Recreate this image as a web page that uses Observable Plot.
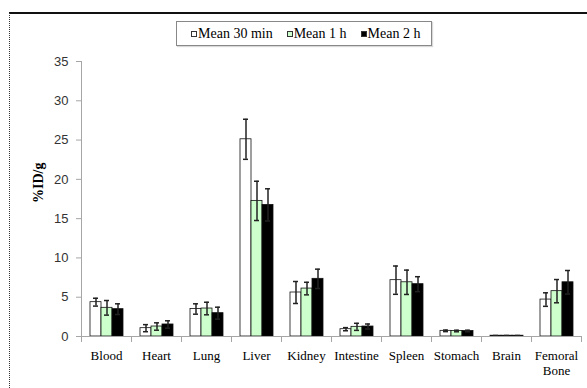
<!DOCTYPE html>
<html>
<head>
<meta charset="utf-8">
<script src="https://cdn.jsdelivr.net/npm/d3@7"></script>
<script src="https://cdn.jsdelivr.net/npm/@observablehq/plot@0.6"></script>
<style>
  html, body { margin: 0; padding: 0; background: #fff; }
  #wrap { position: relative; width: 587px; height: 388px; overflow: hidden; background: #fff; }
  #wrap svg { position: absolute; left: 0; top: 0; }
  #border {
    position: absolute; left: 9px; top: 12px; width: 640px; height: 420px;
    border-top: 2px solid #111; border-left: 1px dotted #333; box-sizing: border-box;
  }
  #legend {
    position: absolute; left: 176px; top: 21px; width: 256px; height: 25px;
    box-sizing: border-box; border: 1px solid #888; background: #fff;
    box-shadow: 1px 1px 1px rgba(0,0,0,0.15);
    display: flex; align-items: center; padding-left: 14px;
    font-family: "Liberation Serif", "Times New Roman", serif; font-size: 14px; color: #000;
  }
  #legend .item { display: flex; align-items: center; margin-right: 14px; white-space: nowrap; }
  #legend .sw { width: 6px; height: 6px; border: 1px solid #333; box-sizing: border-box; margin-right: 1px; }
  .organ-chart g[aria-label="fx-axis tick label"] text,
  .organ-chart g[aria-label="fx-axis tick label"] {
    font-family: "Liberation Serif", "Times New Roman", serif !important;
    font-size: 13px;
  }
  .organ-chart g[aria-label="y-axis tick label"] {
    font-family: "Liberation Sans", Arial, sans-serif !important;
    font-size: 13px;
  }
  .organ-chart .ytitle, .organ-chart .ytitle text {
    font-family: "Liberation Serif", "Times New Roman", serif !important;
  }
</style>
</head>
<body>
<div id="wrap">
  <div id="border"></div>
</div>
<script>
// Tissue distribution (%ID/g), mean ± SD at three time points
const organs = ["Blood", "Heart", "Lung", "Liver", "Kidney", "Intestine", "Spleen", "Stomach", "Brain", "Femoral Bone"];
const series = ["Mean 30 min", "Mean 1 h", "Mean 2 h"];
const seriesColors = ["#ffffff", "#ccffcc", "#000000"];

const mean30 = [4.37, 1.06, 3.5, 25.1, 5.6, 0.93, 7.17, 0.72, 0.1, 4.7];
const sd30   = [0.5, 0.45, 0.66, 2.55, 1.4, 0.2, 1.8, 0.1, 0.03, 0.86];
const mean1h = [3.65, 1.27, 3.56, 17.26, 6.1, 1.23, 6.9, 0.7, 0.1, 5.77];
const sd1h   = [0.93, 0.47, 0.8, 2.5, 0.8, 0.45, 1.55, 0.1, 0.03, 1.48];
const mean2h = [3.48, 1.53, 2.97, 16.75, 7.34, 1.27, 6.66, 0.7, 0.1, 6.9];
const sd2h   = [0.68, 0.47, 0.76, 2.05, 1.23, 0.32, 0.95, 0.1, 0.03, 1.5];

const yTicks = [0, 5, 10, 15, 20, 25, 30, 35];
const yLabel = "%ID/g";

const means = [mean30, mean1h, mean2h];
const sds = [sd30, sd1h, sd2h];
const rows = organs.flatMap((organ, i) =>
  series.map((s, j) => ({organ, series: s, mean: means[j][i], sd: sds[j][i]}))
);

const axisGray = "#a6a6a6";

const chart = Plot.plot({
  width: 587,
  height: 388,
  marginLeft: 79,
  marginRight: 5,
  marginTop: 61,
  marginBottom: 52,
  className: "organ-chart",
  fx: {domain: organs, padding: 0},
  x: {domain: series, paddingInner: 0, paddingOuter: 0.67, axis: null},
  y: {domain: [0, 35]},
  color: {domain: series, range: seriesColors},
  marks: [
    Plot.barY(rows, {fx: "organ", x: "series", y: "mean", fill: "series", stroke: "#111", strokeWidth: 0.8}),
    Plot.ruleX(rows, {fx: "organ", x: "series", y1: d => d.mean - d.sd, y2: d => d.mean + d.sd, stroke: "#222", strokeWidth: 1.5}),
    Plot.tickY(rows, {fx: "organ", x: "series", y: d => d.mean + d.sd, insetLeft: 3, insetRight: 3, stroke: "#222", strokeWidth: 1.5}),
    Plot.tickY(rows, {fx: "organ", x: "series", y: d => d.mean - d.sd, insetLeft: 3, insetRight: 3, stroke: "#222", strokeWidth: 1.5}),
    // baseline and category separators
    Plot.ruleY([0], {stroke: axisGray}),
    Plot.frame({anchor: "left", stroke: axisGray, insetTop: 275, insetBottom: -5}),
    Plot.frame({anchor: "right", stroke: axisGray, insetTop: 275, insetBottom: -5, facetAnchor: "right"}),
    // y axis line
    Plot.frame({anchor: "left", stroke: axisGray, facetAnchor: "left"}),
    Plot.axisY({
      ticks: yTicks, tickSize: 5, tickPadding: 8, stroke: axisGray, fill: "#333",
      fontSize: 13, label: null
    }),
    Plot.axisFx({
      anchor: "bottom", tickSize: 0, tickPadding: 13, label: null,
      fontSize: 13, fill: "#000", lineHeight: 1.15,
      tickFormat: d => d === "Femoral Bone" ? "Femoral\nBone" : d
    }),
    Plot.text([yLabel], {
      text: d => d, frameAnchor: "left", rotate: -90, dx: -43, dy: 4,
      fontWeight: "bold", fontSize: 14, className: "ytitle",
      fill: "#000", facetAnchor: "left"
    })
  ]
});

const wrap = document.getElementById("wrap");
wrap.appendChild(chart);

// legend box
const legend = document.createElement("div");
legend.id = "legend";
series.forEach((s, j) => {
  const item = document.createElement("div");
  item.className = "item";
  const sw = document.createElement("span");
  sw.className = "sw";
  sw.style.background = seriesColors[j];
  item.appendChild(sw);
  item.appendChild(document.createTextNode(s));
  legend.appendChild(item);
});
wrap.appendChild(legend);
</script>
</body>
</html>
